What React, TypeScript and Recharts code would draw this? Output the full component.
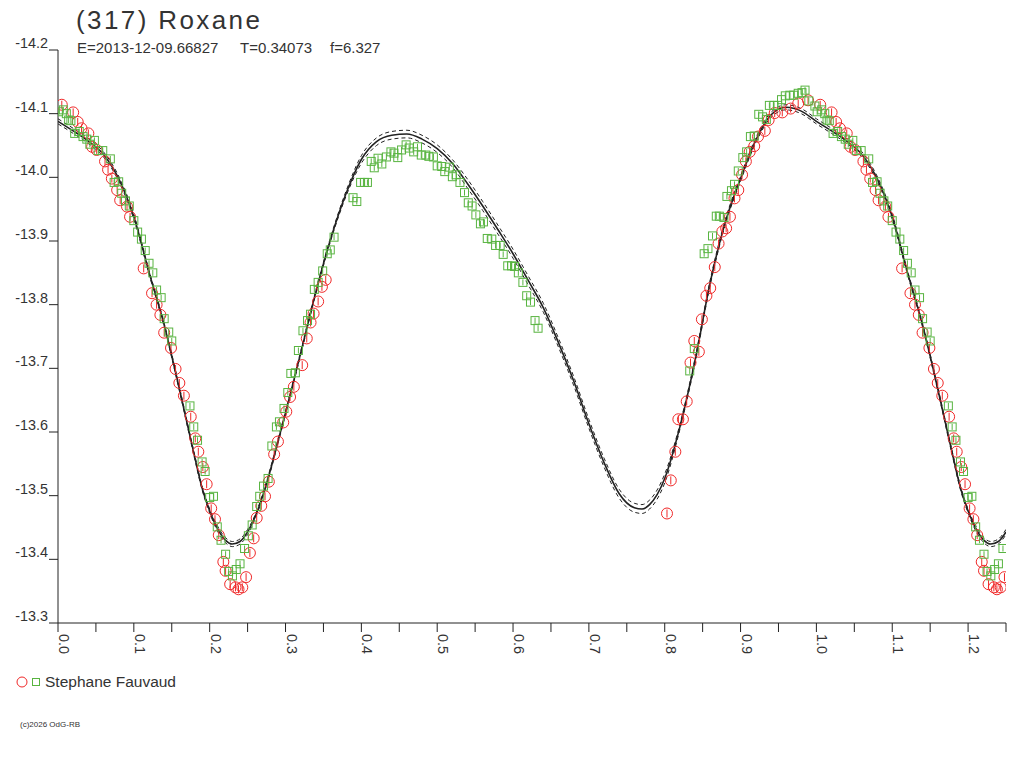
import React from "react";
import { ComposedChart, Line, Scatter, XAxis, YAxis } from "recharts";

// fit curve (one rotation, phase 0..1)
const fitPhase = [
  0, 0.02, 0.04, 0.06, 0.08, 0.1, 0.12, 0.14, 0.16, 0.18, 0.19, 0.2, 0.21, 0.22, 0.23, 0.24, 0.25,
  0.26, 0.27, 0.28, 0.29, 0.3, 0.32, 0.34, 0.36, 0.38, 0.4, 0.42, 0.44, 0.46, 0.48, 0.5, 0.52,
  0.54, 0.56, 0.58, 0.6, 0.62, 0.64, 0.66, 0.68, 0.7, 0.72, 0.74, 0.76, 0.77, 0.78, 0.8, 0.82,
  0.84, 0.86, 0.88, 0.9, 0.92, 0.94, 0.96, 0.98, 1.0,
];
const fitMid = [
  -14.088, -14.073, -14.057, -14.036, -13.998, -13.938, -13.851, -13.768, -13.668, -13.562, -13.512,
  -13.476, -13.449, -13.431, -13.424, -13.428, -13.443, -13.467, -13.5, -13.54, -13.585, -13.63,
  -13.724, -13.82, -13.905, -13.975, -14.028, -14.056, -14.066, -14.068, -14.06, -14.045, -14.022,
  -13.99, -13.955, -13.918, -13.88, -13.838, -13.795, -13.74, -13.68, -13.613, -13.552, -13.503,
  -13.481, -13.479, -13.486, -13.527, -13.608, -13.712, -13.835, -13.93, -13.998, -14.058, -14.098,
  -14.11, -14.104, -14.088,
];
const fitUpper = [
  -14.092, -14.077, -14.061, -14.04, -14.002, -13.942, -13.854, -13.771, -13.671, -13.565, -13.515,
  -13.479, -13.453, -13.435, -13.428, -13.432, -13.447, -13.47, -13.503, -13.543, -13.588, -13.633,
  -13.727, -13.823, -13.908, -13.979, -14.034, -14.062, -14.072, -14.074, -14.066, -14.051, -14.028,
  -13.997, -13.962, -13.925, -13.887, -13.845, -13.802, -13.747, -13.687, -13.62, -13.559, -13.51,
  -13.488, -13.486, -13.493, -13.534, -13.612, -13.716, -13.839, -13.934, -14.002, -14.062, -14.102,
  -14.114, -14.108, -14.092,
];
const fitLower = [
  -14.084, -14.069, -14.053, -14.032, -13.994, -13.934, -13.848, -13.765, -13.665, -13.559, -13.509,
  -13.473, -13.445, -13.427, -13.42, -13.424, -13.439, -13.464, -13.497, -13.537, -13.582, -13.627,
  -13.721, -13.817, -13.902, -13.971, -14.022, -14.05, -14.06, -14.062, -14.054, -14.039, -14.016,
  -13.983, -13.948, -13.911, -13.873, -13.831, -13.788, -13.733, -13.673, -13.606, -13.545, -13.496,
  -13.474, -13.472, -13.479, -13.52, -13.604, -13.708, -13.831, -13.926, -13.994, -14.054, -14.094,
  -14.106, -14.1, -14.084,
];

// observations [phase, mag]
const redObs: [number, number][] = [
  [0.005, -14.114], [0.02, -14.102], [0.026, -14.087], [0.031, -14.077], [0.04, -14.069], [0.045, -14.048],
  [0.051, -14.043], [0.062, -14.025], [0.066, -14.012], [0.071, -13.998], [0.078, -13.98], [0.082, -13.964],
  [0.091, -13.954], [0.095, -13.938], [0.113, -13.857], [0.124, -13.818], [0.13, -13.8], [0.135, -13.784],
  [0.14, -13.756], [0.149, -13.732], [0.155, -13.699], [0.16, -13.677], [0.166, -13.657], [0.175, -13.624],
  [0.181, -13.59], [0.185, -13.569], [0.191, -13.545], [0.196, -13.518], [0.202, -13.48], [0.207, -13.463],
  [0.212, -13.438], [0.218, -13.396], [0.221, -13.382], [0.227, -13.361], [0.234, -13.356], [0.238, -13.353],
  [0.243, -13.356], [0.248, -13.372], [0.253, -13.41], [0.258, -13.433], [0.262, -13.465], [0.268, -13.484],
  [0.273, -13.499], [0.278, -13.522], [0.285, -13.565], [0.29, -13.585], [0.297, -13.615], [0.301, -13.632],
  [0.306, -13.655], [0.311, -13.671], [0.322, -13.705], [0.328, -13.747], [0.333, -13.772], [0.337, -13.786],
  [0.343, -13.805], [0.348, -13.828], [0.353, -13.839],
  [0.803, -13.472], [0.808, -13.524], [0.814, -13.569], [0.818, -13.62], [0.824, -13.62], [0.829, -13.648],
  [0.834, -13.709], [0.839, -13.743], [0.845, -13.726], [0.849, -13.777], [0.855, -13.814], [0.86, -13.826],
  [0.866, -13.859], [0.871, -13.896], [0.876, -13.915], [0.881, -13.92], [0.886, -13.938], [0.892, -13.967],
  [0.897, -13.98], [0.902, -14.004], [0.907, -14.025], [0.912, -14.04], [0.918, -14.049], [0.923, -14.064],
  [0.932, -14.073], [0.937, -14.09], [0.945, -14.101], [0.955, -14.102], [0.966, -14.108], [0.976, -14.116],
  [0.989, -14.121],
];
const greenObs: [number, number][] = [
  [0.001, -14.103], [0.007, -14.106], [0.011, -14.1], [0.014, -14.09], [0.017, -14.089], [0.022, -14.069],
  [0.028, -14.072], [0.033, -14.064], [0.038, -14.06], [0.042, -14.052], [0.048, -14.058], [0.053, -14.042],
  [0.059, -14.042], [0.069, -14.029], [0.074, -13.992], [0.08, -13.993], [0.084, -13.975], [0.089, -13.963],
  [0.094, -13.955], [0.1, -13.932], [0.105, -13.914], [0.11, -13.903], [0.115, -13.885], [0.12, -13.865],
  [0.125, -13.85], [0.13, -13.823], [0.136, -13.811], [0.14, -13.778], [0.146, -13.757], [0.15, -13.743],
  [0.174, -13.641], [0.179, -13.608], [0.184, -13.587], [0.19, -13.553], [0.194, -13.538], [0.2, -13.497],
  [0.205, -13.499], [0.21, -13.451], [0.215, -13.43], [0.221, -13.408], [0.225, -13.381], [0.23, -13.374],
  [0.235, -13.384], [0.24, -13.393], [0.246, -13.417], [0.251, -13.437], [0.256, -13.454], [0.262, -13.483],
  [0.266, -13.499], [0.271, -13.515], [0.277, -13.527], [0.282, -13.578], [0.288, -13.608], [0.292, -13.616],
  [0.298, -13.637], [0.303, -13.662], [0.307, -13.692], [0.313, -13.693], [0.317, -13.728], [0.323, -13.759],
  [0.329, -13.775], [0.333, -13.785], [0.338, -13.824], [0.343, -13.835], [0.349, -13.853], [0.355, -13.88],
  [0.359, -13.886], [0.364, -13.906], [0.389, -13.968], [0.394, -13.962], [0.399, -13.992], [0.404, -13.992],
  [0.408, -13.992], [0.413, -14.025], [0.417, -14.015], [0.422, -14.03], [0.427, -14.021], [0.433, -14.032],
  [0.439, -14.04], [0.443, -14.038], [0.448, -14.031], [0.453, -14.043], [0.459, -14.051], [0.463, -14.046],
  [0.469, -14.04], [0.474, -14.048], [0.479, -14.035], [0.485, -14.035], [0.489, -14.033], [0.495, -14.032],
  [0.5, -14.018], [0.506, -14.017], [0.51, -14.009], [0.516, -14.016], [0.52, -14.001], [0.525, -14.004],
  [0.53, -13.992], [0.536, -13.976], [0.541, -13.96], [0.546, -13.955], [0.551, -13.941], [0.557, -13.927],
  [0.561, -13.93], [0.566, -13.904], [0.572, -13.903], [0.577, -13.893], [0.583, -13.893], [0.587, -13.879],
  [0.593, -13.861], [0.598, -13.861], [0.602, -13.86], [0.607, -13.85], [0.613, -13.835], [0.618, -13.814],
  [0.623, -13.804], [0.629, -13.775], [0.633, -13.763],
  [0.833, -13.696], [0.839, -13.731], [0.852, -13.88], [0.857, -13.888], [0.863, -13.908], [0.868, -13.939],
  [0.872, -13.939], [0.878, -13.937], [0.882, -13.97], [0.888, -13.979], [0.892, -13.989], [0.897, -14.01],
  [0.903, -14.031], [0.908, -14.04], [0.913, -14.064], [0.918, -14.065], [0.924, -14.099], [0.929, -14.095],
  [0.934, -14.091], [0.938, -14.113], [0.944, -14.113], [0.949, -14.113], [0.954, -14.122], [0.959, -14.128],
  [0.965, -14.129], [0.97, -14.129], [0.976, -14.132], [0.981, -14.133], [0.985, -14.137], [0.99, -14.12],
  [0.998, -14.112],
];

const xTicks = [
  0, 0.05, 0.1, 0.15, 0.2, 0.25, 0.3, 0.35, 0.4, 0.45, 0.5, 0.55, 0.6, 0.65, 0.7, 0.75, 0.8, 0.85, 0.9,
  0.95, 1.0, 1.05, 1.1, 1.15, 1.2, 1.25,
];
const yTicks = [-14.2, -14.1, -14.0, -13.9, -13.8, -13.7, -13.6, -13.5, -13.4, -13.3];

const MAX_PHASE = 1.25;

// the plot shows 1.25 rotations: phases 0..0.25 are drawn again at 1..1.25
function wrapObs(obs: [number, number][]) {
  const out = obs.map(([x, y]) => ({ x, y }));
  obs.forEach(([x, y]) => {
    if (x + 1 <= MAX_PHASE) out.push({ x: x + 1, y });
  });
  return out;
}
function wrapFit(vals: number[]) {
  const out = fitPhase.map((x, i) => ({ x, y: vals[i] }));
  fitPhase.forEach((x, i) => {
    if (x > 0 && x + 1 <= MAX_PHASE + 1e-9) out.push({ x: x + 1, y: vals[i] });
  });
  return out;
}

const redData = wrapObs(redObs);
const greenData = wrapObs(greenObs);
const midData = wrapFit(fitMid);
const upperData = wrapFit(fitUpper);
const lowerData = wrapFit(fitLower);

const RED = "#f02828";
const GREEN = "#58b440";
const INK = "#222";
const FONT = "'Liberation Sans', Arial, sans-serif";

const RedMark = (p: any) => (
  <g>
    <circle cx={p.cx} cy={p.cy} r={5.5} fill="none" stroke={RED} strokeWidth={1} />
    <line x1={p.cx} x2={p.cx} y1={p.cy - 4} y2={p.cy + 4} stroke={RED} strokeWidth={1} />
  </g>
);
const GreenMark = (p: any) => (
  <g>
    <rect x={p.cx - 4} y={p.cy - 4} width={8} height={8} fill="none" stroke={GREEN} strokeWidth={1} />
    <line x1={p.cx} x2={p.cx} y1={p.cy - 3} y2={p.cy + 3} stroke={GREEN} strokeWidth={1} />
  </g>
);

const YTick = (p: any) => (
  <text x={p.x + 1} y={p.y - 2} textAnchor="end" fontSize={14.4} fill="#333" fontFamily={FONT}>
    {Number(p.payload.value).toFixed(1)}
  </text>
);
const XTick = (p: any) => {
  const v = Number(p.payload.value);
  if (Math.round(v * 100) % 10 !== 0) return <g />;
  return (
    <text
      x={p.x + 1}
      y={p.y}
      transform={`rotate(90 ${p.x + 1} ${p.y})`}
      textAnchor="start"
      fontSize={14.4}
      fill="#333"
      fontFamily={FONT}
    >
      {v.toFixed(1)}
    </text>
  );
};

export default function App() {
  return (
    <div style={{ position: "absolute", left: 0, top: 0, width: 1024, height: 768, background: "#fff", fontFamily: FONT, color: "#333" }}>
      <div style={{ position: "absolute", left: 76, top: 4, fontSize: 26, lineHeight: "32px", letterSpacing: 2.4 }}>(317) Roxane</div>
      <div style={{ position: "absolute", left: 77, top: 39, fontSize: 15, lineHeight: "17px" }}>E=2013-12-09.66827</div>
      <div style={{ position: "absolute", left: 240, top: 39, fontSize: 15, lineHeight: "17px" }}>T=0.34073</div>
      <div style={{ position: "absolute", left: 330, top: 39, fontSize: 15, lineHeight: "17px" }}>f=6.327</div>

      <ComposedChart width={1024} height={768} margin={{ top: 50, right: 18, bottom: 0, left: 0 }}>
        <XAxis
          type="number"
          dataKey="x"
          domain={[0, MAX_PHASE]}
          ticks={xTicks}
          tickSize={9}
          height={145}
          stroke={INK}
          tick={<XTick />}
          allowDataOverflow
        />
        <YAxis
          type="number"
          dataKey="y"
          domain={[-14.2, -13.3]}
          reversed
          ticks={yTicks}
          tickSize={9}
          width={58}
          stroke={INK}
          tick={<YTick />}
          allowDataOverflow
        />
        <Line data={upperData} dataKey="y" type="monotone" stroke={INK} strokeWidth={1} strokeDasharray="4 3" dot={false} isAnimationActive={false} />
        <Line data={lowerData} dataKey="y" type="monotone" stroke={INK} strokeWidth={1} strokeDasharray="4 3" dot={false} isAnimationActive={false} />
        <Line data={midData} dataKey="y" type="monotone" stroke={INK} strokeWidth={1.6} dot={false} isAnimationActive={false} />
        <Scatter data={redData} dataKey="y" shape={<RedMark />} isAnimationActive={false} />
        <Scatter data={greenData} dataKey="y" shape={<GreenMark />} isAnimationActive={false} />
      </ComposedChart>

      <div style={{ position: "absolute", left: 16, top: 673, display: "flex", alignItems: "center", fontSize: 15.5 }}>
        <svg width={28} height={18}>
          <circle cx={6} cy={9} r={5} fill="none" stroke={RED} />
          <rect x={16.5} y={5.5} width={7} height={7} fill="none" stroke={GREEN} />
        </svg>
        <span style={{ marginLeft: 1 }}>Stephane Fauvaud</span>
      </div>
      <div style={{ position: "absolute", left: 20, top: 720, fontSize: 8 }}>(c)2026 OdG-RB</div>
    </div>
  );
}
